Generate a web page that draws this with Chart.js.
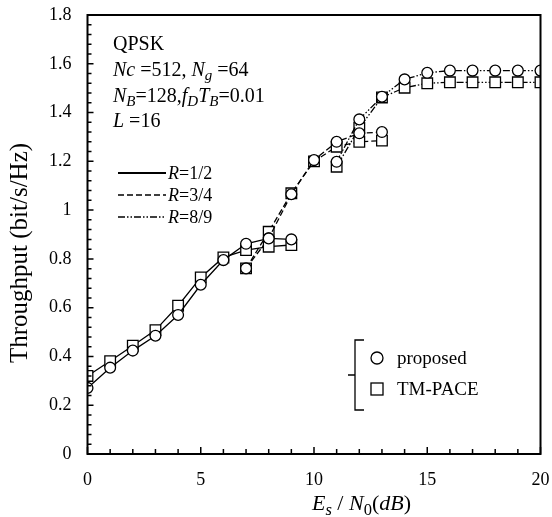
<!DOCTYPE html>
<html>
<head>
<meta charset="utf-8">
<script src="https://cdn.jsdelivr.net/npm/chart.js@4.4.1/dist/chart.umd.min.js"></script>
<style>
html,body{margin:0;padding:0;background:#fff;}
#c{display:block;}
</style>
</head>
<body>
<canvas id="c" width="552" height="517"></canvas>
<script>
// ---- data ----
const xR12 = [0,1,2,3,4,5,6,7,8,9];
const proposedR12 = [0.271,0.354,0.424,0.485,0.570,0.694,0.795,0.862,0.884,0.880];
const tmpaceR12   = [0.320,0.381,0.444,0.508,0.608,0.724,0.806,0.836,0.850,0.857];

const xR34 = [7,8,9,10,11,12,13];
const proposedR34 = [0.761,0.884,1.065,1.205,1.280,1.315,1.320];
const tmpaceR34   = [0.761,0.911,1.069,1.200,1.260,1.280,1.285];

const xR89 = [11,12,13,14,15,16,17,18,19,20];
const proposedR89 = [1.198,1.372,1.465,1.536,1.563,1.572,1.572,1.572,1.572,1.572];
const tmpaceR89   = [1.178,1.337,1.462,1.502,1.520,1.524,1.524,1.524,1.524,1.524];

const xTicks = [0,5,10,15,20];
const yTicks = [0,0.2,0.4,0.6,0.8,1,1.2,1.4,1.6,1.8];

const FONT = "'Liberation Serif', 'Times New Roman', serif";
const DASH12 = [];
const DASH34 = [6,3];
const DASH89 = [7,2,1.5,2,1.5,2];

function pts(xs, ys){ return xs.map((x,i)=>({x:x, y:ys[i]})); }

function ds(label, xs, ys, shape, dash){
  return {
    label: label,
    data: pts(xs, ys),
    showLine: true,
    borderColor: '#000',
    borderWidth: 1.3,
    borderDash: dash,
    pointStyle: shape,
    pointRadius: shape === 'rect' ? 7.5 : 5.4,
    pointBorderWidth: 1.3,
    pointBorderColor: '#000',
    pointBackgroundColor: '#fff',
    fill: false,
    tension: 0
  };
}

// draw text made of parts: [text, flags] flags: 'i' italic, 's' subscript
function drawRich(ctx, x, y, parts, size, align){
  const items = parts.map(p=>{
    const t = p[0], f = p[1] || '';
    const sz = f.includes('s') ? size*0.75 : size;
    const font = (f.includes('i') ? 'italic ' : '') + sz + 'px ' + FONT;
    ctx.font = font;
    return {t, font, w: ctx.measureText(t).width, dy: f.includes('s') ? size*0.22 : 0};
  });
  const total = items.reduce((a,b)=>a+b.w,0);
  let cx = align === 'center' ? x - total/2 : x;
  ctx.textBaseline = 'alphabetic';
  ctx.textAlign = 'left';
  items.forEach(it=>{
    ctx.font = it.font;
    ctx.fillText(it.t, cx, y + it.dy);
    cx += it.w;
  });
  return total;
}

const decor = {
  id: 'decor',
  afterDatasetsDraw(chart){
    const ctx = chart.ctx;
    const xs = chart.scales.x, ys = chart.scales.y;
    const L = xs.getPixelForValue(0), R = xs.getPixelForValue(20);
    const T = ys.getPixelForValue(1.8), B = ys.getPixelForValue(0);
    ctx.save();
    ctx.strokeStyle = '#000';
    ctx.fillStyle = '#000';
    ctx.setLineDash([]);
    // frame
    ctx.lineWidth = 2;
    ctx.strokeRect(L, T, R-L, B-T);
    // tick marks (inward)
    ctx.lineWidth = 1.5;
    ctx.beginPath();
    for (let i=0;i<=20;i++){
      const px = xs.getPixelForValue(i);
      const len = (i%5===0) ? 7 : 5;
      ctx.moveTo(px, B); ctx.lineTo(px, B-len);
    }
    for (let j=0;j<=45;j++){
      const v = j*0.04;
      const py = ys.getPixelForValue(v);
      const len = (j%5===0) ? 6 : 4;
      ctx.moveTo(L, py); ctx.lineTo(L+len, py);
    }
    ctx.stroke();

    // parameter text block
    const s = 20;
    drawRich(ctx, 113, 50, [['QPSK','']], s);
    drawRich(ctx, 113, 76, [['N','i'],['c','i'],[' =512, ',''],['N','i'],['g','is'],[' =64','']], s);
    drawRich(ctx, 113, 102, [['N','i'],['B','is'],['=128,',''],['f','i'],['D','is'],['T','i'],['B','is'],['=0.01','']], s);
    drawRich(ctx, 113, 127, [['L','i'],[' =16','']], s);

    // line-style legend
    const rows = [[173, DASH12, '1/2'],[195, DASH34, '3/4'],[217, DASH89, '8/9']];
    rows.forEach(r=>{
      ctx.save();
      ctx.lineWidth = r[1].length ? 1.3 : 2.2;
      ctx.setLineDash(r[1]);
      ctx.beginPath();
      ctx.moveTo(118, r[0]); ctx.lineTo(166, r[0]);
      ctx.stroke();
      ctx.restore();
      drawRich(ctx, 168, r[0]+6, [['R','i'],['=' + r[2], '']], 18);
    });

    // marker legend with bracket
    ctx.lineWidth = 1.3;
    ctx.setLineDash([]);
    ctx.beginPath();
    ctx.moveTo(364, 340); ctx.lineTo(355, 340); ctx.lineTo(355, 410); ctx.lineTo(364, 410);
    ctx.moveTo(355, 375); ctx.lineTo(348, 375);
    ctx.stroke();
    ctx.fillStyle = '#fff';
    ctx.beginPath(); ctx.arc(377, 358, 6, 0, Math.PI*2); ctx.fill(); ctx.stroke();
    ctx.strokeRect(371, 383, 12, 12);
    ctx.fillStyle = '#000';
    drawRich(ctx, 397, 364, [['proposed','']], 19);
    drawRich(ctx, 397, 395, [['TM-PACE','']], 19);

    // x axis title
    drawRich(ctx, 312, 510, [['E','i'],['s','is'],[' / ',''],['N','i'],['0','s'],['(',''],['dB','i'],[')','']], 22);

    // y axis title
    ctx.save();
    ctx.translate(27, 253);
    ctx.rotate(-Math.PI/2);
    ctx.font = '25px ' + FONT;
    ctx.textAlign = 'center';
    ctx.textBaseline = 'alphabetic';
    ctx.fillText('Throughput (bit/s/Hz)', 0, 0);
    ctx.restore();

    ctx.restore();
  }
};

new Chart(document.getElementById('c'), {
  type: 'scatter',
  data: {
    datasets: [
      ds('proposed R=1/2', xR12, proposedR12, 'circle', DASH12),
      ds('TM-PACE R=1/2', xR12, tmpaceR12, 'rect', DASH12),
      ds('proposed R=3/4', xR34, proposedR34, 'circle', DASH34),
      ds('TM-PACE R=3/4', xR34, tmpaceR34, 'rect', DASH34),
      ds('proposed R=8/9', xR89, proposedR89, 'circle', DASH89),
      ds('TM-PACE R=8/9', xR89, tmpaceR89, 'rect', DASH89)
    ]
  },
  options: {
    responsive: false,
    animation: false,
    devicePixelRatio: 1,
    layout: { padding: { left: 0, right: 11.5, top: 15, bottom: 0 } },
    plugins: { legend: { display: false }, tooltip: { enabled: false } },
    scales: {
      x: {
        type: 'linear', min: 0, max: 20,
        afterFit(scale){ scale.height = 63; scale.paddingLeft = 0; scale.paddingRight = 0; },
        afterBuildTicks(scale){ scale.ticks = xTicks.map(v=>({value:v})); },
        grid: { display: false, drawTicks: false },
        border: { display: false },
        ticks: { color: '#000', padding: 15, maxRotation: 0, autoSkip: false, font: { family: FONT, size: 18 } }
      },
      y: {
        type: 'linear', min: 0, max: 1.8,
        afterFit(scale){ scale.width = 87.5; scale.paddingTop = 0; scale.paddingBottom = 0; },
        afterBuildTicks(scale){ scale.ticks = yTicks.map(v=>({value:v})); },
        grid: { display: false, drawTicks: false },
        border: { display: false },
        ticks: { color: '#000', padding: 16, autoSkip: false, font: { family: FONT, size: 18 },
          callback: v => String(Math.round(v*10)/10) }
      }
    }
  },
  plugins: [decor]
});
</script>
</body>
</html>
